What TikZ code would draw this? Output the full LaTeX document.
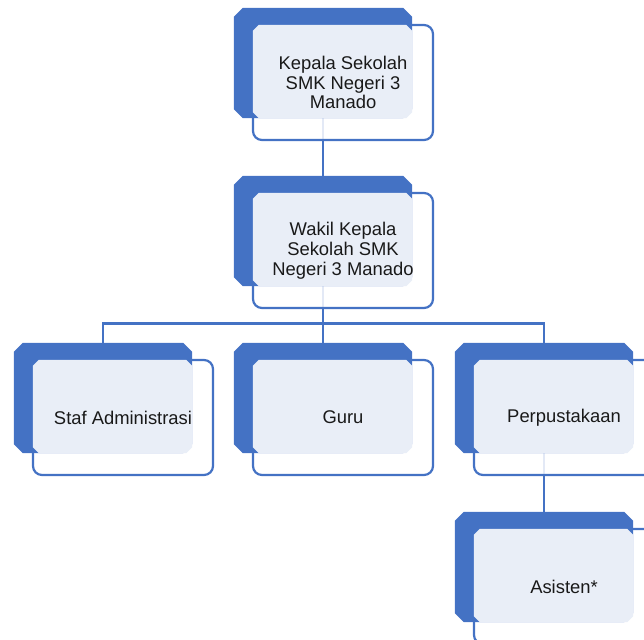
\documentclass[tikz,border=0pt]{standalone}
\usepackage{fontspec}
\setmainfont{Liberation Sans}
\usepackage{tikz}
\usetikzlibrary{positioning, backgrounds}
\definecolor{orgblue}{HTML}{4472C4}
\definecolor{orgpale}{HTML}{E9EEF7}
\tikzset{
    back/.style={rectangle, draw=none, minimum width=178pt, minimum height=110pt, inner sep=0pt},
    pane/.style={rectangle, draw=none, minimum width=159pt, minimum height=93pt, inner sep=0pt},
    front/.style={rectangle, rounded corners=9pt, draw=orgblue, line width=2.2pt, fill=white, fill opacity=0.85, minimum width=180pt, minimum height=115pt, inner sep=0pt},
    txt/.style={align=center, font=\fontsize{18.4}{19.8}\selectfont, text=black!90},
    link/.style={draw=orgblue, line width=2.6pt},
}
% fill a node's box with its corners cut off
\newcommand{\cutfill}[3]{%
    \fill[#3] ([xshift=#2]#1.north west) -- ([xshift=-#2]#1.north east) -- ([yshift=-#2]#1.north east)
        -- ([yshift=#2]#1.south east) -- ([xshift=-#2]#1.south east) -- ([xshift=#2]#1.south west)
        -- ([yshift=#2]#1.south west) -- ([yshift=-#2]#1.north west) -- cycle;}
\begin{document}
\begin{tikzpicture}[x=1pt, y=-1pt]
    \useasboundingbox (0,0) rectangle (644,639);
    \clip (0,0) rectangle (644,639);

    % Kepala Sekolah
    \node[back] (kepalaback) at (323,63) {};
    \node[front] (kepala) at ([shift={(20,19.5)}]kepalaback.center) {};
    \cutfill{kepalaback}{9pt}{orgblue}
    \node[pane] (kepalapane) at ([shift={(9.5,8.5)}]kepalaback.center) {};
    \cutfill{kepalapane}{6pt}{orgpale}
    \node[txt] at (kepala) {Kepala Sekolah\\SMK Negeri 3\\Manado};

    % Wakil Kepala Sekolah
    \node[back] (wakilback) at (323,231) {};
    \node[front] (wakil) at ([shift={(20,19.5)}]wakilback.center) {};
    \cutfill{wakilback}{9pt}{orgblue}
    \node[pane] (wakilpane) at ([shift={(9.5,8.5)}]wakilback.center) {};
    \cutfill{wakilpane}{6pt}{orgpale}
    \node[txt] at (wakil) {Wakil Kepala\\Sekolah SMK\\Negeri 3 Manado};

    % Staf Administrasi
    \node[back] (stafback) at (103,398) {};
    \node[front] (staf) at ([shift={(20,19.5)}]stafback.center) {};
    \cutfill{stafback}{9pt}{orgblue}
    \node[pane] (stafpane) at ([shift={(9.5,8.5)}]stafback.center) {};
    \cutfill{stafpane}{6pt}{orgpale}
    \node[txt] at (staf) {Staf Administrasi};

    % Guru
    \node[back] (guruback) at (323,398) {};
    \node[front] (guru) at ([shift={(20,19.5)}]guruback.center) {};
    \cutfill{guruback}{9pt}{orgblue}
    \node[pane] (gurupane) at ([shift={(9.5,8.5)}]guruback.center) {};
    \cutfill{gurupane}{6pt}{orgpale}
    \node[txt] at (guru) {Guru};

    % Perpustakaan
    \node[back] (perpusback) at (544,398) {};
    \node[front] (perpus) at ([shift={(20,19.5)}]perpusback.center) {};
    \cutfill{perpusback}{9pt}{orgblue}
    \node[pane] (perpuspane) at ([shift={(9.5,8.5)}]perpusback.center) {};
    \cutfill{perpuspane}{6pt}{orgpale}
    \node[txt] at (perpus) {Perpustakaan};

    % Asisten
    \node[back] (asistenback) at (544,567) {};
    \node[front] (asisten) at ([shift={(20,19.5)}]asistenback.center) {};
    \cutfill{asistenback}{9pt}{orgblue}
    \node[pane] (asistenpane) at ([shift={(9.5,8.5)}]asistenback.center) {};
    \cutfill{asistenpane}{6pt}{orgpale}
    \node[txt] at (asisten) {Asisten*};

    % Connectors behind the boxes
    \begin{scope}[on background layer]
        \draw[link] (kepalaback.south) -- (wakilback.north);
        \draw[link] (wakilback.south) -- ++(0,37) coordinate (bus) -| (stafback.north);
        \draw[link] (bus) -- (guruback.north);
        \draw[link] (bus) -| (perpusback.north);
        \draw[link] (perpusback.south) -- (asistenback.north);
    \end{scope}
\end{tikzpicture}
\end{document}
